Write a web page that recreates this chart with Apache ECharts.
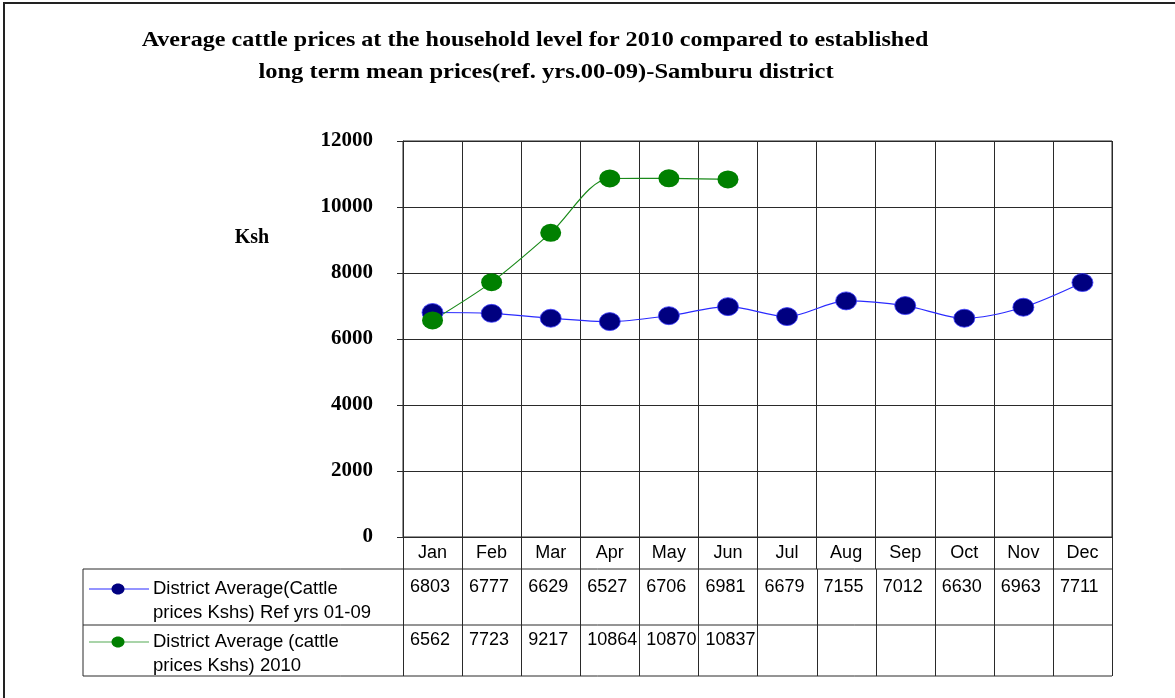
<!DOCTYPE html>
<html>
<head>
<meta charset="utf-8">
<script src="https://cdn.jsdelivr.net/npm/echarts@6/dist/echarts.min.js"></script>
<style>
  html, body { margin: 0; padding: 0; background: #ffffff; }
  #chart { width: 1175px; height: 698px; }
</style>
</head>
<body>
<div id="chart"></div>
<script>
"use strict";

/* ---------- data ---------- */
const months = ["Jan", "Feb", "Mar", "Apr", "May", "Jun", "Jul", "Aug", "Sep", "Oct", "Nov", "Dec"];
const refAverage = [6803, 6777, 6629, 6527, 6706, 6981, 6679, 7155, 7012, 6630, 6963, 7711];
const average2010 = [6562, 7723, 9217, 10864, 10870, 10837, null, null, null, null, null, null];
const seriesNames = [
    ["District Average(Cattle", "prices Kshs) Ref yrs 01-09"],
    ["District Average (cattle", "prices Kshs) 2010"]
];
const titleLines = [
    "Average cattle prices at the household level for 2010 compared to established",
    "long term mean prices(ref. yrs.00-09)-Samburu district"
];

const Theme = {
    blueLine: "#2b2bff",
    blueDot: "#000080",
    green: "#008000",
    greenLine: "#1a8a1a",
    grid: "#2a2a2a",
    text: "#000000"
};

const serif = "'Liberation Serif', 'Times New Roman', serif";
const sans = "'Liberation Sans', Arial, sans-serif";

const chart = echarts.init(document.getElementById("chart"));

chart.setOption({
    animation: false,
    grid: { left: 403, top: 141, width: 709, height: 396, show: true, borderColor: Theme.grid, borderWidth: 1 },
    xAxis: {
        type: "category",
        data: months,
        boundaryGap: true,
        axisLine: { lineStyle: { color: Theme.grid, width: 1 } },
        axisTick: { show: true, interval: 0, length: 32, lineStyle: { color: Theme.grid } },
        axisLabel: { interval: 0, margin: 7, color: Theme.text, fontFamily: sans, fontSize: 18 },
        splitLine: { show: true, interval: 0, lineStyle: { color: Theme.grid, width: 1 } }
    },
    yAxis: {
        type: "value",
        min: 0,
        max: 12000,
        interval: 2000,
        axisLine: { show: true, lineStyle: { color: Theme.grid } },
        axisTick: { show: true, length: 6, lineStyle: { color: Theme.grid } },
        axisLabel: { margin: 30, color: Theme.text, fontFamily: serif, fontWeight: "bold", fontSize: 21,
            formatter: v => String(v) },
        splitLine: { show: true, lineStyle: { color: Theme.grid, width: 1 } }
    },
    series: [
        {
            name: seriesNames[0].join(" "),
            type: "line",
            data: refAverage,
            smooth: 0.3,
            symbol: "circle",
            symbolSize: [21, 18],
            lineStyle: { color: Theme.blueLine, width: 1.2 },
            itemStyle: { color: Theme.blueDot, borderColor: "#3b3bff", borderWidth: 0.8 }
        },
        {
            name: seriesNames[1].join(" "),
            type: "line",
            data: average2010,
            smooth: 0.3,
            connectNulls: false,
            symbol: "circle",
            symbolSize: [21, 18],
            lineStyle: { color: Theme.greenLine, width: 1.2 },
            itemStyle: { color: Theme.green }
        }
    ]
});

/* ---------- frame, titles and the data table below the axis ---------- */
function buildGraphics(){
    const c0 = chart.convertToPixel({ xAxisIndex: 0 }, 0);
    const c1 = chart.convertToPixel({ xAxisIndex: 0 }, 1);
    const colW = c1 - c0;
    const left = c0 - colW / 2;
    const right = left + months.length * colW;
    const tableLeft = 83;
    const rowTops = [569, 625, 676];
    const lineStyle = { stroke: Theme.grid, lineWidth: 1 };
    const els = [];

    // outer frame (open at right/bottom, like the source)
    els.push({ type: "polyline", shape: { points: [[4, 700], [4, 3], [1176, 3]] },
        style: { stroke: "#222", lineWidth: 2, fill: null } });

    // titles
    titleLines.forEach((t, i) => {
        els.push({ type: "text", x: i === 0 ? 535 : 546, y: i === 0 ? 40 : 72, scaleX: i === 0 ? 1.095 : 1.115,
            style: { text: t, fill: Theme.text, font: "bold 22px " + serif, textAlign: "center", textVerticalAlign: "middle" } });
    });

    // y axis name
    els.push({ type: "text", x: 252, y: 238,
        style: { text: "Ksh", fill: Theme.text, font: "bold 20px " + serif, textAlign: "center", textVerticalAlign: "middle" } });

    // horizontal table lines
    rowTops.forEach(y => {
        els.push({ type: "line", shape: { x1: tableLeft, y1: y, x2: right, y2: y }, style: lineStyle });
    });
    els.push({ type: "line", shape: { x1: tableLeft, y1: rowTops[0], x2: tableLeft, y2: rowTops[2] }, style: lineStyle });
    for(let i = 0; i <= months.length; i++){
        const x = Math.round(left + i * colW) + 0.5;
        els.push({ type: "line", shape: { x1: x, y1: rowTops[0], x2: x, y2: rowTops[2] }, style: lineStyle });
    }

    // legend keys + row labels
    const rows = [
        { values: refAverage, line: Theme.blueLine, dot: Theme.blueDot, keyY: 589, valueY: 587 },
        { values: average2010, line: "#55aa55", dot: Theme.green, keyY: 642, valueY: 640 }
    ];
    rows.forEach((row, r) => {
        els.push({ type: "line", shape: { x1: 89, y1: row.keyY, x2: 149, y2: row.keyY },
            style: { stroke: row.line, lineWidth: 1.2 } });
        els.push({ type: "ellipse", shape: { cx: 118, cy: row.keyY, rx: 6.5, ry: 5.5 },
            style: { fill: row.dot } });
        seriesNames[r].forEach((txt, k) => {
            els.push({ type: "text", x: 153, y: row.keyY + k * 24,
                style: { text: txt, fill: Theme.text, font: "18.5px " + sans, textVerticalAlign: "middle" } });
        });
        row.values.forEach((v, i) => {
            if(v === null) return;
            els.push({ type: "text", x: left + i * colW + 7, y: row.valueY,
                style: { text: String(v), fill: Theme.text, font: "18px " + sans, textVerticalAlign: "middle" } });
        });
    });

    chart.setOption({ graphic: els });
}

buildGraphics();
</script>
</body>
</html>
